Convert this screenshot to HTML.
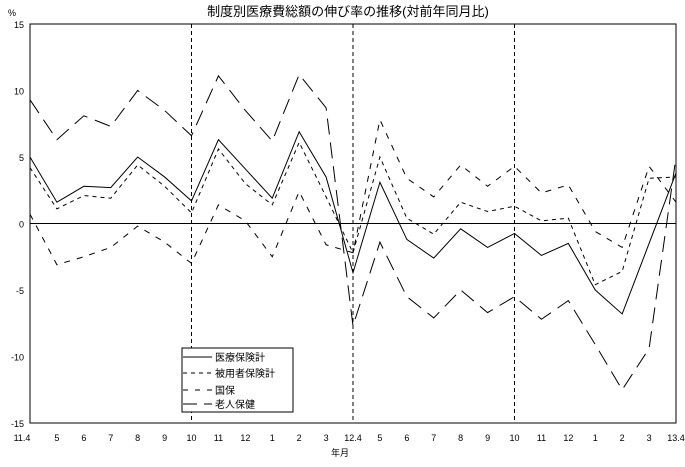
<!DOCTYPE html>
<html><head><meta charset="utf-8"><style>
body{margin:0;background:#fff}
svg text{font-family:"Liberation Sans","Noto Sans CJK JP",sans-serif;fill:#000}
</style></head><body>
<svg id="chart" width="685" height="462" xmlns="http://www.w3.org/2000/svg">
<text x="348" y="16" font-size="13" text-anchor="middle">制度別医療費総額の伸び率の推移(対前年同月比)</text>
<text x="8" y="16" font-size="9">%</text>
<g id="axes"></g>
<g id="series"></g>
<g>
<rect x="182" y="348" width="111" height="64" fill="#fff" stroke="#000" stroke-width="1"/>
<line x1="183" y1="357" x2="212" y2="357" stroke="#000"/>
<text x="215" y="361" font-size="10">医療保険計</text>
<line x1="183" y1="373" x2="212" y2="373" stroke="#000" stroke-dasharray="4,4"/>
<text x="215" y="377" font-size="10">被用者保険計</text>
<line x1="183" y1="390" x2="212" y2="390" stroke="#000" stroke-dasharray="5,7"/>
<text x="215" y="394" font-size="10">国保</text>
<line x1="183" y1="404" x2="212" y2="404" stroke="#000" stroke-dasharray="14,7"/>
<text x="215" y="408" font-size="10">老人保健</text>
</g>
<text x="340" y="456" font-size="9" text-anchor="middle">年月</text>
</svg>
<script>
const categories=["11.4","5","6","7","8","9","10","11","12","1","2","3","12.4","5","6","7","8","9","10","11","12","1","2","3","13.4"];
const yTicks=[15,10,5,0,-5,-10,-15];
const iryou=[5.0,1.6,2.8,2.7,5.0,3.5,1.7,6.3,4.1,1.9,6.9,3.5,-3.7,3.1,-1.2,-2.6,-0.4,-1.8,-0.75,-2.4,-1.5,-5.0,-6.8,-1.5,3.8];
const hiyousha=[4.2,1.1,2.1,1.9,4.4,2.8,0.8,5.6,3.0,1.4,6.1,2.0,-2.2,5.0,0.4,-0.8,1.6,0.9,1.3,0.2,0.4,-4.6,-3.6,3.4,3.5];
const kokuho=[0.7,-3.1,-2.5,-1.8,-0.2,-1.4,-3.0,1.4,0.2,-2.5,2.4,-1.6,-2.2,7.8,3.4,2.0,4.4,2.8,4.3,2.3,2.9,-0.6,-1.8,4.3,1.6];
const roujin=[9.3,6.3,8.1,7.3,10.0,8.5,6.6,11.1,8.5,6.2,11.2,8.7,-7.7,-1.4,-5.5,-7.1,-5.0,-6.7,-5.5,-7.2,-5.8,-9.1,-12.5,-9.4,5.0];
const X0=30,X1=676,Y0=24,Y1=423;
const x=i=>X0+i*(X1-X0)/(categories.length-1);
const y=v=>Y0+(15-v)*(Y1-Y0)/30;
const NS="http://www.w3.org/2000/svg";
const axes=document.getElementById('axes'),ser=document.getElementById('series');
function mk(t,a,p){const e=document.createElementNS(NS,t);for(const k in a)e.setAttribute(k,a[k]);p.appendChild(e);return e;}
const frame=mk('rect',{x:X0,y:Y0,width:X1-X0,height:Y1-Y0,fill:'none',stroke:'#000','stroke-width':1},axes);


const zl=mk('line',{x1:X0,x2:X1,y1:y(0),y2:y(0),stroke:'#000'},axes);


[6,12,18].forEach(i=>{const l=mk('line',{x1:x(i),x2:x(i),y1:Y0,y2:Y1,stroke:'#000','stroke-dasharray':'4,3'},axes);

});
yTicks.forEach(v=>{const t=mk('text',{x:X0-6,y:y(v)+4,'font-size':9,'text-anchor':'end'},axes);t.textContent=v;

});
categories.forEach((c,i)=>{const t=mk('text',{x:i==0?x(i)-8:x(i),y:441,'font-size':9,'text-anchor':'middle'},axes);t.textContent=c;

});
function line(d,dash,name){const p=mk('polyline',{points:d.map((v,i)=>x(i)+','+y(v)).join(' '),fill:'none',stroke:'#000','stroke-width':1,'stroke-dasharray':dash},ser);

}
line(iryou,'none','series-iryou-hoken');
line(hiyousha,'4,4','series-hiyousha-hoken');
line(kokuho,'6,7','series-kokuho');
line(roujin,'16,8','series-roujin-hoken');
</script>
</body></html>
